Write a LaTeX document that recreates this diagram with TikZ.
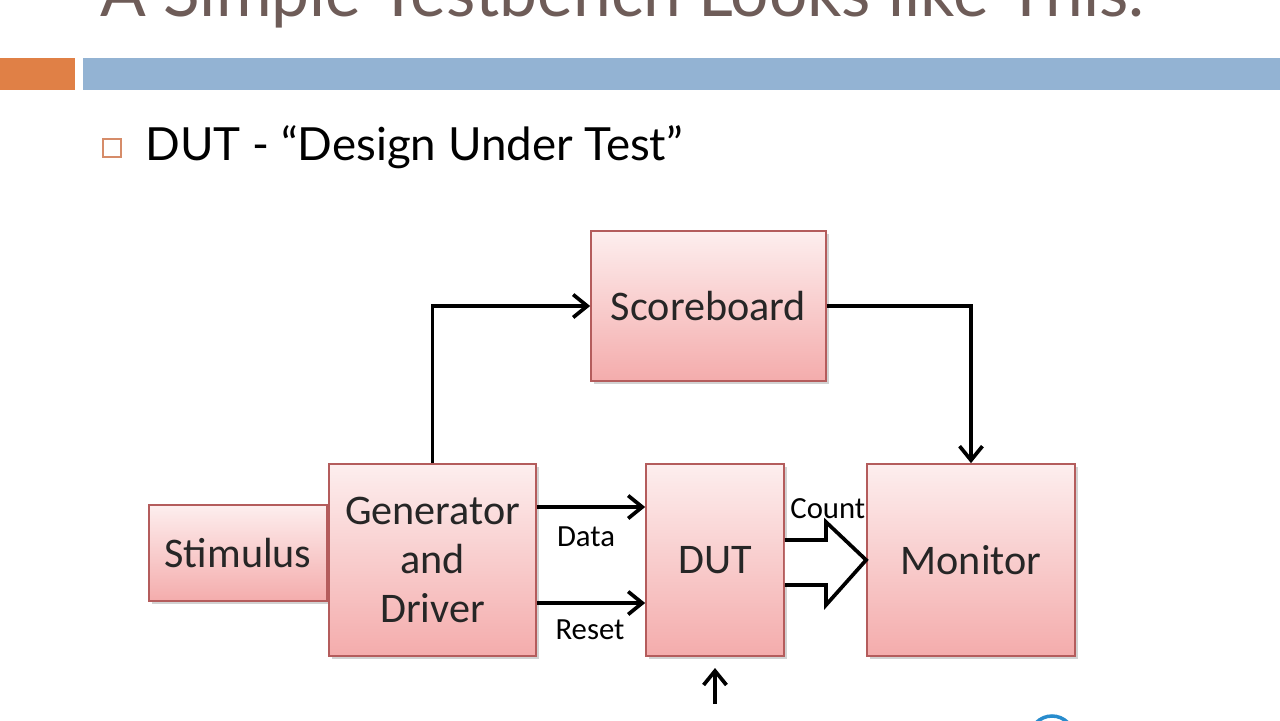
\documentclass[tikz,border=0pt]{standalone}
\usepackage{fontspec}
\setmainfont{Carlito}
\newfontfamily\slidefont{Lato}
\usetikzlibrary{arrows.meta,shadows,positioning}
\definecolor{boxtop}{RGB}{253,238,238}
\definecolor{boxbot}{RGB}{244,172,172}
\definecolor{boxline}{RGB}{180,92,92}
\definecolor{titlecol}{RGB}{110,92,88}
\definecolor{orangebar}{RGB}{224,128,70}
\definecolor{bluebar}{RGB}{147,179,211}
\definecolor{bulletcol}{RGB}{214,140,105}
\definecolor{logoblue}{RGB}{40,140,205}

\begin{document}
\begin{tikzpicture}[x=0.02cm, y=-0.02cm,
  block/.style={draw=boxline, line width=1pt, top color=boxtop, bottom color=boxbot,
    drop shadow={shadow xshift=1.5pt, shadow yshift=-1.5pt, opacity=0.35},
    align=center, inner sep=0pt, text=black!85, font=\fontsize{24}{28}\selectfont},
  wire/.style={line width=2.1pt, -{Straight Barb[length=8pt,width=13pt]}},
  siglabel/.style={font=\fontsize{17.5}{20}\selectfont, inner sep=0pt}]
    \clip (0,0) rectangle (1280,720);
    \fill[white] (0,0) rectangle (1280,720);
    \node[anchor=base west, inner sep=0pt, text=titlecol,
      font=\slidefont\fontsize{38.5}{44}\selectfont] (title) at (100,16)
      {A Simple Testbench Looks like This.};
    \fill[orangebar] (0,58) rectangle (75,90);
    \fill[bluebar] (83,58) rectangle (1280,90);
    \node[draw=bulletcol, line width=0.8pt, minimum size=0.36cm, inner sep=0pt] (bullet) at (112,148) {};
    \node[anchor=base west, inner sep=0pt, font=\slidefont\fontsize{26}{30}\selectfont]
      (sub) at (145,160) {DUT - “Design Under Test”};

    \node[block, minimum width=4.7cm, minimum height=3cm] (score) at (708.5,306) {Scoreboard};
    \node[block, minimum width=3.56cm, minimum height=1.92cm] (stim) at (238,553) {Stimulus};
    \node[block, minimum width=4.14cm, minimum height=3.84cm, font=\fontsize{24}{28}\selectfont]
      (gen) at (432.5,560) {Generator\\and\\Driver};
    \node[block, minimum width=2.76cm, minimum height=3.84cm] (dut) at (715,560) {DUT};
    \node[block, minimum width=4.16cm, minimum height=3.84cm] (mon) at (971,560) {Monitor};

    \draw[wire] (gen.north) |- (score.west);
    \draw[wire] (score.east) -| (mon.north);
    \coordinate (data) at (536,507);
    \coordinate (reset) at (536,603);
    \draw[wire] (gen.east|-data) -- (dut.west|-data);
    \draw[wire] (gen.east|-reset) -- (dut.west|-reset);
    \node[siglabel] (datalbl) at (586,537) {Data};
    \node[siglabel] (resetlbl) at (590,630) {Reset};
    \filldraw[fill=white, draw=black, line width=2.1pt, line join=miter]
      (dut.east|-0,540) -- (826,540) -- (826,522) -- (mon.west) -- (826,605) -- (826,585) -- (dut.east|-0,585);
    \node[siglabel, anchor=base west] (countlbl) at (790,518) {Count};
    \coordinate (clk) at (715,704);
    \draw[wire] (clk) -- (715,668);
    \draw[logoblue, line width=2pt] (1052,738) circle (22);
\end{tikzpicture}
\end{document}
